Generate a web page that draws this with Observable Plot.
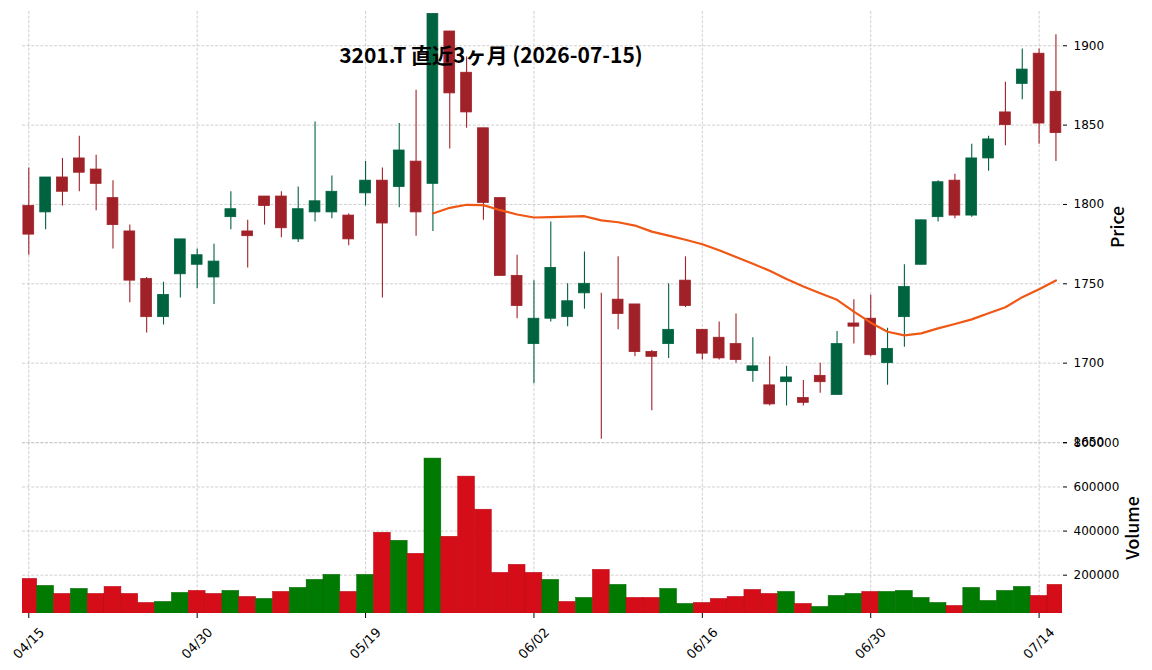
<!DOCTYPE html>
<html><head><meta charset="utf-8">
<script src="https://cdn.jsdelivr.net/npm/d3@7"></script>
<script src="https://cdn.jsdelivr.net/npm/@observablehq/plot@0.6"></script>
<style>
body{margin:0;background:#fff;}
#wrap{position:relative;width:1152px;height:670px;overflow:hidden;background:#fff;}
#wrap svg{position:absolute;left:0;top:0;}
#title{position:absolute;left:0;top:44px;width:982px;text-align:center;font-family:"Noto Sans CJK JP";font-weight:bold;font-size:21px;line-height:21px;color:#000;white-space:pre;z-index:5;}
</style></head><body>
<div id="wrap"><div id="title"></div></div>
<script>
const title = "3201.T 直近3ヶ月 (2026-07-15)";
const dates = ["04/15","04/16","04/17","04/20","04/21","04/22","04/23","04/24","04/27","04/28",
  "04/30","05/01","05/07","05/08","05/11","05/12","05/13","05/14","05/15","05/18",
  "05/19","05/20","05/21","05/22","05/25","05/26","05/27","05/28","05/29","06/01",
  "06/02","06/03","06/04","06/05","06/08","06/09","06/10","06/11","06/12","06/15",
  "06/16","06/17","06/18","06/19","06/22","06/23","06/24","06/25","06/26","06/29",
  "06/30","07/01","07/02","07/03","07/06","07/07","07/08","07/09","07/10","07/13",
  "07/14","07/15"];
const open  = [1799,1795,1817,1829,1822,1804,1783,1753,1729,1756,1762,1754,1792,1783,1805,1805,1778,1795,1795,1793,
  1807,1815,1811,1827,1813,1909,1883,1848,1804,1755,1712,1728,1729,1744,1720,1740,1737,1707,1712,1752,
  1721,1716,1712,1695,1686,1688,1678,1692,1680,1725,1728,1700,1729,1762,1792,1815,1793,1829,1858,1876,
  1895,1871];
const high  = [1823,1817,1829,1843,1831,1815,1787,1754,1751,1778,1772,1775,1808,1790,1805,1808,1811,1852,1818,1794,
  1827,1823,1851,1872,1920,1909,1893,1848,1804,1768,1752,1789,1750,1770,1744,1767,1737,1708,1750,1767,
  1721,1726,1731,1716,1704,1698,1689,1700,1720,1740,1743,1722,1762,1790,1815,1819,1838,1843,1877,1898,
  1898,1907];
const low   = [1768,1784,1799,1808,1796,1772,1738,1719,1724,1741,1747,1737,1784,1760,1787,1779,1776,1789,1791,1774,
  1799,1741,1798,1780,1783,1835,1848,1790,1755,1728,1687,1726,1723,1734,1652,1721,1704,1670,1703,1735,
  1702,1702,1700,1688,1673,1673,1673,1681,1680,1712,1704,1686,1710,1762,1789,1791,1792,1821,1837,1866,
  1838,1827];
const close = [1781,1817,1808,1820,1813,1787,1752,1729,1743,1778,1768,1764,1797,1780,1799,1785,1797,1802,1808,1778,
  1815,1788,1834,1795,1920,1870,1858,1801,1755,1736,1728,1760,1739,1750,1720,1731,1707,1704,1721,1736,
  1706,1703,1702,1698,1674,1691,1675,1688,1712,1723,1705,1709,1748,1790,1814,1793,1829,1841,1850,1885,
  1851,1845];
const volume = [183300,151500,115200,137900,115200,147000,115200,74200,78800,119700,
  128800,115200,128800,101500,92400,124200,142400,178800,201500,124200,
  201500,392400,356100,297000,728800,374200,647000,497000,210600,247000,
  210600,178800,78800,97000,224200,156100,97000,97000,137900,69700,
  74200,92400,101500,133300,115200,124200,69700,56100,106100,115200,
  124200,124200,128800,97000,74200,60600,142400,83300,128800,147000,
  106100,156100];
const volumeUp = [0,1,0,1,0,0,0,0,1,1, 0,0,1,0,1,0,1,1,1,0, 1,0,1,0,1,0,0,0,0,0,
  0,1,0,1,0,1,0,0,1,1, 0,0,0,0,0,1,0,1,1,1, 0,1,1,1,1,0,1,1,1,1, 0,0];
const maStart = 24;
const ma25 = [1794.3,1797.9,1799.8,1799.6,1796.4,1793.7,1791.8,1792.0,1792.4,1792.6,
  1790.0,1788.8,1786.7,1782.9,1780.4,1777.8,1774.9,1771.1,1766.9,1762.7,
  1758.2,1753.0,1748.3,1744.1,1739.9,1732.5,1725.5,1719.8,1717.5,1718.8,
  1721.9,1724.7,1727.6,1731.4,1735.2,1741.6,1746.6,1752.1];
const priceTicks = [1650,1700,1750,1800,1850,1900];
const volumeTicks = [200000,400000,600000,800000];
const dateTickLabels = ["04/15","04/30","05/19","06/02","06/16","06/30","07/14"];

// styles
const C = {up:"#006340", down:"#a02128", vUp:"#007a00", vDown:"#d50d18", vUpEdge:"#006a00", vDownEdge:"#b80a14", ma:"#ef5714", grid:"#c4c4c4"};
const xDomain = [-0.374, 61.39];

document.getElementById("title").textContent = title;

const candles = dates.map((d,i) => ({i, date:d, open:open[i], high:high[i], low:low[i], close:close[i], up: close[i] > open[i]}));
const vols = dates.map((d,i) => ({i, v: volume[i], up: volumeUp[i] === 1}));
const maData = ma25.map((v,k) => ({i: maStart + k, v}));
const tickIdx = dateTickLabels.map(t => dates.indexOf(t));

const gridStyle = {stroke: C.grid, strokeWidth: 0.8, strokeDasharray: "3,1.6"};
const baseStyle = {background:"transparent", overflow:"visible", fontFamily:"DejaVu Sans", fontSize:"12px", color:"#000"};

const volChart = Plot.plot({
  width: 1152, height: 670, marginTop: 442, marginBottom: 57, marginLeft: 22, marginRight: 90,
  style: baseStyle,
  x: {domain: xDomain, axis: "bottom", ticks: tickIdx, tickSize: 5, tickFormat: () => "", label: null},
  y: {domain: [26200, 801700], axis: "right", ticks: volumeTicks, tickSize: 4, tickPadding: 7, tickFormat: "d", label: null},
  marks: [
    Plot.ruleY(volumeTicks, {y: d => d, ...gridStyle}),
    Plot.ruleX(tickIdx, {x: d => d, ...gridStyle}),
    Plot.rect(vols, {x1: d => d.i - 0.5, x2: d => d.i + 0.5, y1: 0, y2: "v",
      fill: d => d.up ? C.vUp : C.vDown, stroke: d => d.up ? C.vUpEdge : C.vDownEdge, strokeWidth: 0.5, clip: true}),
    Plot.text(tickIdx, {x: d => d, text: d => dates[d], frameAnchor: "bottom", dy: 30, rotate: -45,
      textAnchor: "middle", lineAnchor: "middle", fontFamily: "DejaVu Sans", fontSize: 13, fill: "#000"}),
    Plot.text(["Volume"], {text: d => d, frameAnchor: "right", dx: 71, rotate: -90, textAnchor: "middle", lineAnchor: "middle",
      fontFamily: "Noto Sans CJK JP", fontSize: 17.5, fontWeight: 500, fill: "#000"})
  ]
});

const priceChart = Plot.plot({
  width: 1152, height: 442, marginTop: 11, marginBottom: 0, marginLeft: 22, marginRight: 90,
  style: baseStyle,
  x: {domain: xDomain, axis: null},
  y: {domain: [1650, 1921.6], axis: "right", ticks: priceTicks, tickSize: 4, tickPadding: 7, tickFormat: "d", label: null},
  marks: [
    Plot.ruleY(priceTicks, {y: d => d, ...gridStyle}),
    Plot.ruleX(tickIdx, {x: d => d, ...gridStyle}),
    Plot.ruleX(candles, {x: "i", y1: "low", y2: "high", stroke: d => d.up ? C.up : C.down, strokeWidth: 1.1}),
    Plot.rect(candles, {x1: d => d.i - 0.32, x2: d => d.i + 0.32, y1: "open", y2: "close",
      fill: d => d.up ? C.up : C.down, stroke: d => d.up ? C.up : C.down, strokeWidth: 0.8}),
    Plot.line(maData, {x: "i", y: "v", stroke: C.ma, strokeWidth: 2.2}),
    Plot.text(["Price"], {text: d => d, frameAnchor: "right", dx: 56, rotate: -90, textAnchor: "middle", lineAnchor: "middle",
      fontFamily: "Noto Sans CJK JP", fontSize: 17.5, fontWeight: 500, fill: "#000"})
  ]
});

const wrap = document.getElementById("wrap");
wrap.insertBefore(volChart, wrap.firstChild);
wrap.insertBefore(priceChart, document.getElementById("title"));
</script>
</body></html>
